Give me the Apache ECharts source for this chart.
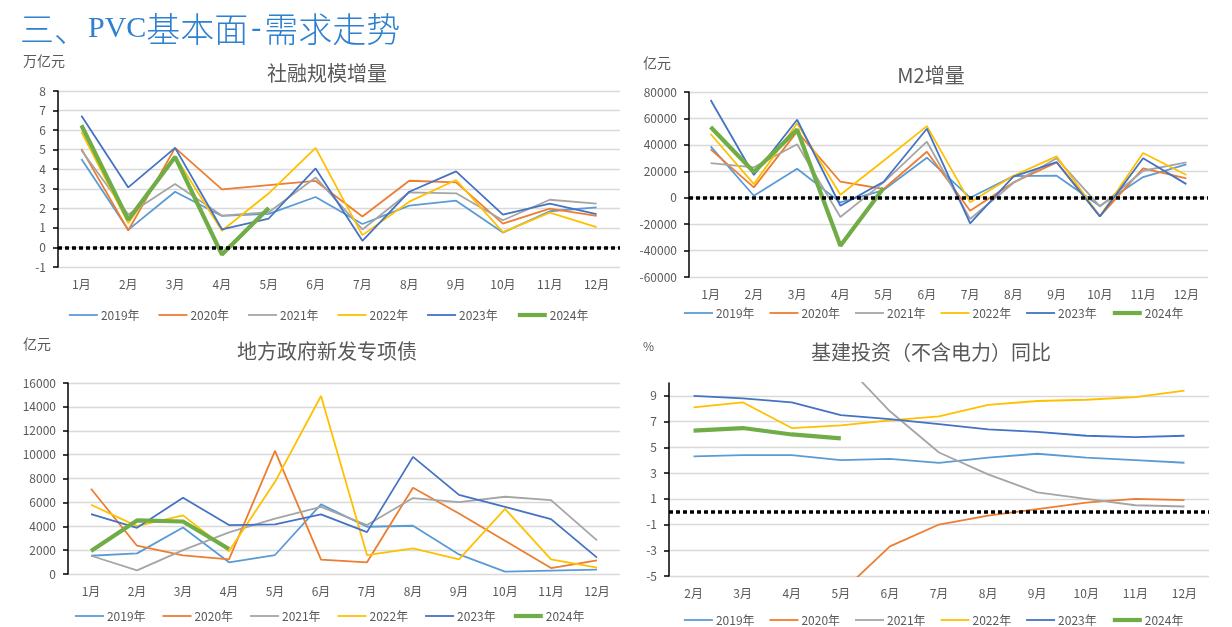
<!DOCTYPE html>
<html>
<head>
<meta charset="utf-8">
<script src="https://cdn.jsdelivr.net/npm/echarts@6/dist/echarts.min.js"></script>
<style>
html,body{margin:0;padding:0;background:#fff;}
#main{width:1232px;height:627px;}
</style>
</head>
<body>
<div id="main"></div>
<script>
// ---------- data ----------
const months = ['1月','2月','3月','4月','5月','6月','7月','8月','9月','10月','11月','12月'];
const monthsInfra = ['2月','3月','4月','5月','6月','7月','8月','9月','10月','11月','12月'];
const years = ['2019年','2020年','2021年','2022年','2023年','2024年'];

// 社融规模增量 (万亿元)
const tsf2019 = [4.52, 0.90, 2.85, 1.61, 1.72, 2.58, 1.20, 2.14, 2.39, 0.76, 1.85, 2.05];
const tsf2020 = [5.04, 0.87, 5.09, 2.97, 3.19, 3.40, 1.58, 3.41, 3.33, 1.22, 1.99, 1.61];
const tsf2021 = [4.97, 1.68, 3.24, 1.63, 1.80, 3.58, 0.92, 2.82, 2.77, 1.39, 2.44, 2.24];
const tsf2022 = [5.91, 1.24, 4.67, 0.85, 2.77, 5.09, 0.63, 2.34, 3.45, 0.78, 1.78, 1.04];
const tsf2023 = [6.74, 3.07, 5.09, 0.93, 1.48, 4.04, 0.34, 2.85, 3.89, 1.68, 2.24, 1.71];
const tsf2024 = [6.25, 1.41, 4.63, -0.36, 2.02];

// M2增量 (亿元)
const m2_2019 = [38850, 1500, 21900, -3500, 5800, 30300, 0, 16400, 16700, -6300, 15600, 25200];
const m2_2020 = [36600, 7800, 50000, 12100, 6600, 34800, -9800, 11600, 26700, -14100, 22200, 14600];
const m2_2021 = [26200, 23000, 40400, -14600, 11600, 42400, -16100, 11100, 29800, -6600, 20400, 26700];
const m2_2022 = [48200, 10300, 56300, 2300, 28000, 54200, -3500, 16600, 31300, -14100, 33800, 17200];
const m2_2023 = [73900, 17200, 59000, -6100, 12100, 52200, -19400, 15900, 27000, -14100, 29800, 10300];
const m2_2024 = [53500, 19400, 51700, -36300, 7300];

// 地方政府新发专项债 (亿元)
const bond2019 = [1530, 1730, 3900, 980, 1590, 5830, 3960, 4040, 1640, 195, 280, 360];
const bond2020 = [7140, 2370, 1560, 1230, 10310, 1200, 980, 7220, 5070, 2790, 500, 1140];
const bond2021 = [1530, 300, 2000, 3480, 4630, 5630, 4100, 6360, 6020, 6470, 6190, 2820];
const bond2022 = [5800, 4010, 4910, 1900, 7720, 14910, 1590, 2150, 1230, 5460, 1230, 530];
const bond2023 = [5020, 3870, 6380, 4100, 4150, 4990, 3510, 9810, 6630, 5630, 4600, 1370];
const bond2024 = [1920, 4490, 4400, 2090];

// 基建投资（不含电力）同比 (%)
const infra2019 = [4.3, 4.4, 4.4, 4.0, 4.1, 3.8, 4.2, 4.5, 4.2, 4.0, 3.8];
const infra2020 = [-30.3, -19.7, -11.8, -6.3, -2.7, -1.0, -0.3, 0.2, 0.7, 1.0, 0.9];
const infra2021 = [36.6, 29.7, 18.4, 11.8, 7.8, 4.6, 2.9, 1.5, 1.0, 0.5, 0.4];
const infra2022 = [8.1, 8.5, 6.5, 6.7, 7.1, 7.4, 8.3, 8.6, 8.7, 8.9, 9.4];
const infra2023 = [9.0, 8.8, 8.5, 7.5, 7.2, 6.8, 6.4, 6.2, 5.9, 5.8, 5.9];
const infra2024 = [6.3, 6.5, 6.0, 5.7];

const infraTicks = [-5, -3, -1, 1, 3, 5, 7, 9];

// ---------- styling ----------
const colors = ['#5B9BD5', '#ED7D31', '#A5A5A5', '#FFC000', '#4472C4', '#70AD47'];
const txt = '#595959';
const FONT = '"Noto Sans CJK SC", "Noto Sans", sans-serif';

const grids = [
  {left: 58, top: 91, width: 562, height: 176},
  {left: 689, top: 92, width: 519, height: 185},
  {left: 68, top: 383, width: 552, height: 191},
  {left: 669, top: 383, width: 540, height: 193}
];

function plain(v) { return String(v); }

function xAxisFor(i, cats) {
  return {
    type: 'category', gridIndex: i, data: cats, boundaryGap: true,
    axisLine: {show: false}, axisTick: {show: false},
    axisLabel: {color: txt, fontSize: 12, margin: 11, fontFamily: FONT, interval: 0},
    splitLine: {show: false}
  };
}
function yAxisFor(i, min, max, interval, custom) {
  const ax = {
    type: 'value', gridIndex: i, min: min, max: max, interval: interval,
    axisLine: {show: true, lineStyle: {color: '#000', width: 1.5}},
    axisTick: {show: true, length: 5, inside: false, lineStyle: {color: '#000', width: 1.5}},
    axisLabel: {color: txt, fontSize: 12, margin: 12, fontFamily: FONT, formatter: plain},
    splitLine: {show: true, lineStyle: {color: '#D9D9D9', width: 1.3}}
  };
  if (custom) {
    ax.axisTick.customValues = custom;
    ax.axisLabel.customValues = custom;
  }
  return ax;
}

const zeroLine = {
  silent: true, symbol: ['none', 'none'], label: {show: false},
  lineStyle: {color: '#000', type: [4, 3], width: 3.6, cap: 'butt'},
  emphasis: {disabled: true},
  data: [{yAxis: 0}]
};

function makeSeries(i, arrs, withZero) {
  return arrs.map((d, k) => {
    const s = {
      name: years[k], type: 'line', xAxisIndex: i, yAxisIndex: i, data: d,
      symbol: 'none', showSymbol: false, smooth: false, clip: true,
      lineStyle: {color: colors[k], width: k === 5 ? 4.2 : 1.8},
      itemStyle: {color: colors[k]},
      z: k === 5 ? 3 : 2
    };
    if (withZero && k === 0) s.markLine = zeroLine;
    return s;
  });
}

function legendFor(i, left, top, gap) {
  return {
    data: years, left: left, top: top, orient: 'horizontal', padding: 0,
    itemWidth: 29, itemHeight: 12, itemGap: gap,
    textStyle: {color: txt, fontSize: 12, fontFamily: FONT, padding: [0, 0, 0, -2]},
    lineStyle: {width: 'inherit'},
    itemStyle: {opacity: 0, borderWidth: 0},
    selectedMode: false
  };
}

const series = [].concat(
  makeSeries(0, [tsf2019, tsf2020, tsf2021, tsf2022, tsf2023, tsf2024], true),
  makeSeries(1, [m2_2019, m2_2020, m2_2021, m2_2022, m2_2023, m2_2024], true),
  makeSeries(2, [bond2019, bond2020, bond2021, bond2022, bond2023, bond2024], false),
  makeSeries(3, [infra2019, infra2020, infra2021, infra2022, infra2023, infra2024], true)
);

function gText(x, y, text, size, align, color) {
  return {
    type: 'text', x: x, y: y, silent: true,
    style: {text: text, fontSize: size, fontFamily: FONT, fill: color || txt,
            textAlign: align || 'left', textVerticalAlign: 'middle'}
  };
}

const option = {
  animation: false,
  textStyle: {fontFamily: FONT},
  title: [{
    text: '{a|三、}{b|PVC}{a|基本面}{c|-}{a|需求走势}',
    left: 20, top: 12, padding: 0,
    textStyle: {
      rich: {
        a: {fontSize: 34, color: '#2F80CF', fontFamily: FONT, fontWeight: 300},
        b: {fontSize: 30, color: '#2F80CF', fontFamily: '"Liberation Serif", serif', fontWeight: 'normal'},
        c: {fontSize: 30, color: '#2F80CF', fontFamily: '"Liberation Serif", serif', fontWeight: 'normal', padding: [0, 3, 0, 3]}
      }
    }
  }],
  graphic: [
    gText(327, 73, '社融规模增量', 20, 'center'),
    gText(931, 75, 'M2增量', 20, 'center'),
    gText(327, 351, '地方政府新发专项债', 20, 'center'),
    gText(931, 352, '基建投资（不含电力）同比', 20, 'center'),
    gText(23, 61, '万亿元', 14, 'left'),
    gText(643, 63, '亿元', 14, 'left'),
    gText(23, 344, '亿元', 14, 'left'),
    gText(643, 346, '%', 12, 'left')
  ],
  grid: grids,
  xAxis: [
    xAxisFor(0, months), xAxisFor(1, months), xAxisFor(2, months), xAxisFor(3, monthsInfra)
  ],
  yAxis: [
    yAxisFor(0, -1, 8, 1),
    yAxisFor(1, -60000, 80000, 20000),
    yAxisFor(2, 0, 16000, 2000),
    yAxisFor(3, -5, 10, 1, infraTicks)
  ],
  legend: [
    legendFor(0, 68, 309, 18),
    legendFor(1, 683, 307, 14),
    legendFor(2, 74, 610, 16),
    legendFor(3, 683, 614, 14)
  ],
  series: series
};

const chart = echarts.init(document.getElementById('main'), null, {renderer: 'canvas'});
chart.setOption(option);
</script>
</body>
</html>
